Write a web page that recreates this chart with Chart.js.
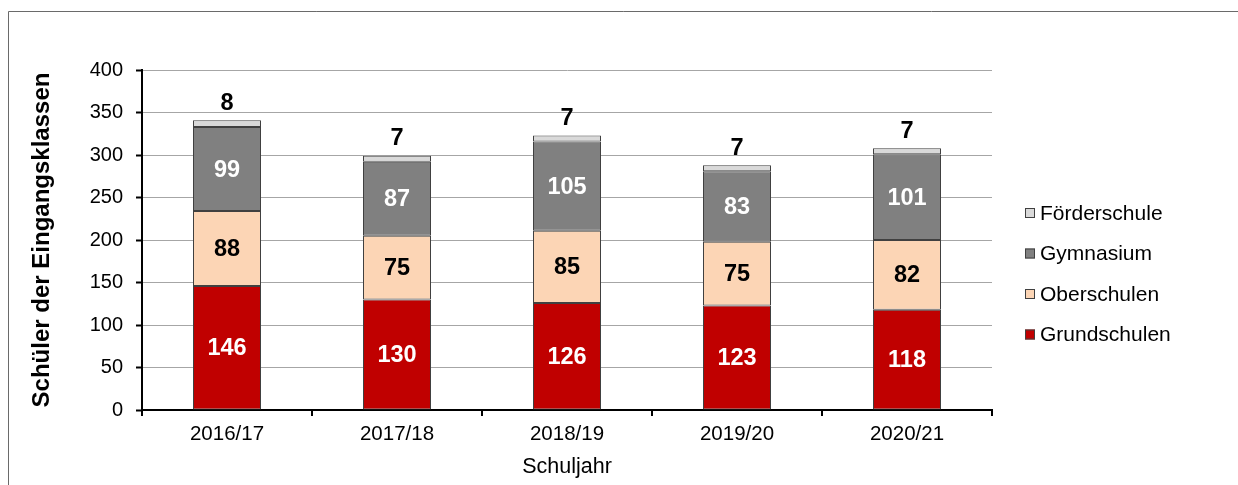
<!DOCTYPE html>
<html lang="de">
<head>
<meta charset="utf-8">
<title>Schüler der Eingangsklassen</title>
<script src="https://cdn.jsdelivr.net/npm/chart.js@4.4.1/dist/chart.umd.min.js"></script>
<style>
  html, body { margin: 0; padding: 0; background: #fff; }
  #wrap { width: 1238px; height: 485px; position: relative; }
</style>
</head>
<body>
<div id="wrap"><canvas id="chart" width="1238" height="485"></canvas></div>
<script>
// Schuljahre
const schuljahre = ['2016/17', '2017/18', '2018/19', '2019/20', '2020/21'];

// Schüler der Eingangsklassen je Schulart
const grundschulen = [146, 130, 126, 123, 118];
const oberschulen  = [88, 75, 85, 75, 82];
const gymnasium    = [99, 87, 105, 83, 101];
const foerderschule = [8, 7, 7, 7, 7];

// y-Achse
const yMin = 0;
const yMax = 400;
const yStep = 50;

const FONT = "'Liberation Sans', Arial, sans-serif";

const colors = {
  grund: '#C00000',
  ober: '#FCD5B5',
  gym: '#808080',
  foerder: '#D9D9D9'
};

// Wertebeschriftungen in bzw. über den Segmenten
const valueLabels = {
  id: 'valueLabels',
  afterDatasetsDraw(chart) {
    const ctx = chart.ctx;
    ctx.save();
    ctx.font = 'bold 23.5px ' + FONT;
    ctx.textAlign = 'center';
    ctx.textBaseline = 'middle';
    chart.data.datasets.forEach((ds, di) => {
      const meta = chart.getDatasetMeta(di);
      meta.data.forEach((bar, i) => {
        const v = ds.data[i];
        ctx.fillStyle = ds.labelColor;
        const y = ds.labelAbove ? bar.y - 18 : (bar.y + bar.base) / 2;
        ctx.fillText(String(v), bar.x, y + 1);
      });
    });
    ctx.restore();
  }
};

// Legende rechts, Reihenfolge wie im Stapel (oben zuerst)
const sideLegend = {
  id: 'sideLegend',
  afterDraw(chart) {
    const ctx = chart.ctx;
    const items = chart.data.datasets.map((d) => d).reverse();
    const x0 = 1025;
    const yStart = 213;
    const gap = 40.5;
    ctx.save();
    ctx.font = '21px ' + FONT;
    ctx.textBaseline = 'middle';
    ctx.textAlign = 'left';
    items.forEach((ds, k) => {
      const y = yStart + k * gap;
      ctx.fillStyle = ds.backgroundColor;
      ctx.fillRect(x0, y - 5, 10, 10);
      ctx.strokeStyle = '#404040';
      ctx.lineWidth = 1;
      ctx.strokeRect(x0 + 0.5, y - 4.5, 9, 9);
      ctx.fillStyle = '#000';
      ctx.fillText(ds.label, x0 + 15, y + 1);
    });
    ctx.restore();
  }
};

// Rahmen um den Diagrammbereich
const frame = {
  id: 'frame',
  beforeDraw(chart) {
    const ctx = chart.ctx;
    ctx.save();
    ctx.fillStyle = '#fff';
    ctx.fillRect(0, 0, chart.width, chart.height);
    ctx.strokeStyle = '#6a6a6a';
    ctx.lineWidth = 1;
    ctx.beginPath();
    ctx.moveTo(8.5, chart.height + 2);
    ctx.lineTo(8.5, 11.5);
    ctx.lineTo(chart.width + 2, 11.5);
    ctx.stroke();
    ctx.restore();
  }
};

const barStyle = {
  borderColor: '#404040',
  borderWidth: 1,
  borderSkipped: false,
  barPercentage: 0.4,
  categoryPercentage: 1.0
};

new Chart(document.getElementById('chart'), {
  type: 'bar',
  data: {
    labels: schuljahre,
    datasets: [
      Object.assign({ label: 'Grundschulen', data: grundschulen, backgroundColor: colors.grund, labelColor: '#fff' }, barStyle),
      Object.assign({ label: 'Oberschulen', data: oberschulen, backgroundColor: colors.ober, labelColor: '#000' }, barStyle),
      Object.assign({ label: 'Gymnasium', data: gymnasium, backgroundColor: colors.gym, labelColor: '#fff' }, barStyle),
      Object.assign({ label: 'Förderschule', data: foerderschule, backgroundColor: colors.foerder, labelColor: '#000', labelAbove: true }, barStyle)
    ]
  },
  options: {
    responsive: false,
    animation: false,
    layout: { padding: { left: 0, top: 70, right: 246, bottom: 0 } },
    plugins: {
      legend: { display: false },
      tooltip: { enabled: false }
    },
    scales: {
      x: {
        stacked: true,
        offset: true,
        grid: {
          offset: true,
          drawOnChartArea: false,
          drawTicks: true,
          tickLength: 6,
          tickColor: '#000',
          lineWidth: 2
        },
        border: { color: '#000', width: 2 },
        ticks: { color: '#000', font: { family: FONT, size: 20.5 }, padding: 6 },
        title: {
          display: true,
          text: 'Schuljahr',
          color: '#000',
          font: { family: FONT, size: 21.5 },
          padding: { top: 0, bottom: 5 }
        },
        afterFit(scale) { scale.height = 75; }
      },
      y: {
        stacked: true,
        min: yMin,
        max: yMax,
        grid: {
          color: '#a6a6a6',
          lineWidth: 1,
          tickLength: 6,
          tickColor: '#000',
          tickWidth: 2
        },
        border: { color: '#000', width: 2 },
        ticks: {
          stepSize: yStep,
          color: '#000',
          font: { family: FONT, size: 20 },
          padding: 13
        },
        title: {
          display: true,
          text: 'Schüler der Eingangsklassen',
          color: '#000',
          font: { family: FONT, size: 24, weight: 'bold' },
          padding: { top: 28, bottom: 0 }
        },
        afterFit(scale) { scale.width = 142; }
      }
    }
  },
  plugins: [frame, valueLabels, sideLegend]
});
</script>
</body>
</html>
